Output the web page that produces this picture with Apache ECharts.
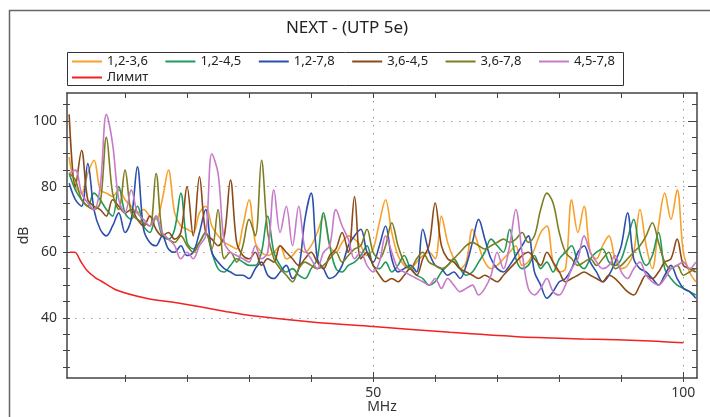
<!DOCTYPE html>
<html><head><meta charset="utf-8">
<script src="https://cdn.jsdelivr.net/npm/echarts@6/dist/echarts.min.js"></script>
<style>html,body{margin:0;padding:0;background:#fff}#c{width:710px;height:417px}</style>
</head><body><div id="c"></div>
<script>
const chartTitle = 'NEXT - (UTP 5e)';
const seriesNames = ['1,2-3,6','1,2-4,5','1,2-7,8','3,6-4,5','3,6-7,8','4,5-7,8'];
const limitName = 'Лимит';
const xName = 'MHz';
const yName = 'dB';

const freq = [1,2,3,4,5,6,7,8,9,10,11,12,13,14,15,16,17,18,19,20,21,22,23,24,25,26,27,28,29,30,
31,32,33,34,35,36,37,38,39,40,41,42,43,44,45,46,47,48,49,50,51,52,53,54,55,56,57,58,59,60,
61,62,63,64,65,66,67,68,69,70,71,72,73,74,75,76,77,78,79,80,81,82,83,84,85,86,87,88,89,90,
91,92,93,94,95,96,97,98,99,100,101,102];

const s1236 = [89,80,78,84,88,79,78,77,79,76, 74,72,73,71,70,76,85,72,68,67, 66,72,74,68,65,63,62,61,68,76,
63,60,59,60,62,58,59,61,60,62, 66,71,62,60,63,65,64,62,59,61, 69,76,66,59,56,55,57,59,60,58,
71,63,58,55,57,67,62,57,55,56, 58,60,62,56,57,61,66,68,57,54, 55,76,66,74,60,58,62,65,58,55,
56,60,73,62,55,68,78,70,79,60, 54,51];
const s1245 = [84,79,76,74,78,76,73,71,80,72, 70,74,68,66,71,65,64,67,78,63, 61,63,66,60,55,54,56,58,57,56,
56,60,71,60,56,54,55,53,52,55, 58,72,62,55,54,56,57,59,62,56, 55,57,54,56,59,55,53,52,50,51,
54,56,58,55,53,54,57,60,64,62, 60,67,58,55,56,59,55,57,54,58, 60,62,57,55,58,60,61,57,56,58,
64,70,60,56,59,66,55,52,50,49, 48,47];
const s1278 = [81,76,74,87,73,67,65,68,72,66, 70,86,67,63,62,65,61,60,62,59, 60,66,73,60,57,55,54,53,53,52,
55,57,53,52,54,56,52,55,70,78, 58,55,52,53,56,62,65,67,60,57, 62,68,58,54,55,56,54,67,60,56,
55,53,54,52,56,63,70,64,58,55, 54,56,59,62,65,54,50,46,48,51, 52,55,60,62,57,54,51,53,57,62,
72,58,55,54,52,50,53,56,52,49, 48,46];
const s3645 = [102,80,91,76,74,73,71,76,74,72, 73,70,68,71,67,65,66,64,66,80, 65,83,66,64,62,65,82,63,59,58,
60,56,58,57,62,60,58,56,58,60, 57,55,59,61,66,60,77,58,60,56, 53,51,52,51,53,55,53,58,62,75,
62,58,57,55,54,53,52,53,52,51, 53,55,57,59,60,58,56,60,57,54, 51,52,53,54,53,52,51,53,52,50,
48,47,50,53,52,54,57,58,64,56, 55,54];
const s3678 = [84,82,76,74,73,75,95,78,73,85, 72,70,69,68,84,66,64,63,65,62, 60,63,66,61,73,58,60,57,62,70,
65,88,66,58,55,53,51,55,57,56, 55,56,58,60,57,59,61,62,67,60, 58,62,69,62,57,55,58,60,57,56,
55,56,58,60,62,63,62,61,62,63, 64,63,64,66,63,65,73,78,75,66, 60,58,56,57,58,56,58,60,55,56,
58,60,62,65,69,63,57,55,56,53, 54,55];
const s4578 = [84,85,78,75,73,80,102,93,76,72, 79,72,70,68,71,66,64,62,58,60, 58,62,65,90,84,63,60,59,58,57,
62,58,60,79,66,74,62,74,61,58, 55,60,62,73,68,64,58,60,56,54, 57,65,60,55,54,53,52,51,50,52,
49,52,50,48,49,50,47,49,53,60, 55,62,73,60,49,47,49,52,48,47, 50,55,58,65,60,57,55,56,59,54,
52,55,57,53,51,50,52,55,56,57, 55,57];

const limitFreq = [1.1,1.9,2.9,3.8,5.3,6.0,8.5,13.4,18.3,22.1,26.4,30.2,40.9,50,62.4,73.2,83.9,94.7,100];
const limitDb   = [60,60,57.1,54.6,52.1,51.4,48.6,46.0,44.6,43.4,41.9,40.7,38.6,37.4,35.6,34.3,33.6,33.0,32.4];

const xTicks = [10,20,30,40,50,60,70,80,90,100];
const xLabels = [50,100];
const yTicks = [25,30,35,40,45,50,55,60,65,70,75,80,85,90,95,100,105];
const yLabels = [40,60,80,100];

const XMIN = 0.65, XMAX = 102.2, YMIN = 21.7, YMAX = 108.5;
const FONT = 'Noto Sans';
const AX = '#444';
const colors = ['#f8a02a','#1f9a5c','#2b4fad','#8b4a17','#7d7d22','#c77ac8'];
const limitColor = '#f22222';
const values = [s1236,s1245,s1278,s3645,s3678,s4578];

const dotted = {show:true, lineStyle:{color:'#9a9a9a', width:1, type:[1.5,6.5]}};
function xa(extra){ return Object.assign({type:'value', min:XMIN, max:XMAX, axisLine:{show:false}, axisLabel:{show:false}, splitLine:{show:false}}, extra); }
function ya(extra){ return Object.assign({type:'value', min:YMIN, max:YMAX, axisLine:{show:false}, axisLabel:{show:false}, splitLine:{show:false}}, extra); }

const chart = echarts.init(document.getElementById('c'), null, {renderer:'canvas'});
const series = seriesNames.map((n,k)=>({
  name:n, type:'line', xAxisIndex:0, yAxisIndex:0, symbol:'none', smooth:0.35,
  data: freq.map((f,i)=>[f, values[k][i]]),
  lineStyle:{width:1.6, color:colors[k]}, itemStyle:{color:colors[k]}, z:3
}));
series.push({
  name:limitName, type:'line', xAxisIndex:0, yAxisIndex:0, symbol:'none', smooth:0.3,
  data: limitFreq.map((f,i)=>[f, limitDb[i]]),
  lineStyle:{width:1.5, color:limitColor}, itemStyle:{color:limitColor}, z:4
});

chart.setOption({
  animation:false,
  backgroundColor:'#fff',
  grid:{left:67, top:93, right:13, bottom:39, containLabel:false, outerBoundsMode:'none'},
  graphic:[
    {type:'rect', shape:{x:9.5, y:10.5, width:740, height:440}, style:{fill:'none', stroke:'#666', lineWidth:1.5}, silent:true},
    {type:'rect', shape:{x:67.5, y:52.5, width:556, height:33}, style:{fill:'none', stroke:'#333', lineWidth:1}, silent:true},
    {type:'text', x:347, y:28, style:{text:chartTitle, fontSize:17, fontFamily:FONT, fill:'#222', textAlign:'center', textVerticalAlign:'middle'}, silent:true}
  ],
  legend:[
    {data:seriesNames, left:72, top:55, padding:0, itemGap:17.5, itemWidth:30, itemHeight:2, icon:'rect', selectedMode:false,
     textStyle:{fontSize:13, fontFamily:FONT, color:'#222'}},
    {data:[limitName], left:72, top:71, padding:0, itemWidth:30, itemHeight:2, icon:'rect', selectedMode:false,
     textStyle:{fontSize:13, fontFamily:FONT, color:'#222'}}
  ],
  xAxis:[
    xa({position:'bottom', axisLine:{show:true, onZero:false, lineStyle:{color:AX, width:1.5}},
        axisTick:{show:true, customValues:xTicks, inside:false, length:4, lineStyle:{color:AX}},
        axisLabel:{show:true, customValues:xLabels, margin:8, fontSize:14, fontFamily:FONT, color:'#333'},
        name:xName, nameLocation:'middle', nameGap:22, nameMoveOverlap:false, nameTextStyle:{fontSize:14, fontFamily:FONT, color:'#333'}}),
    xa({position:'bottom', axisTick:{show:true, customValues:xTicks, inside:true, length:3, lineStyle:{color:AX}}}),
    xa({position:'bottom', axisTick:{show:true, customValues:xLabels, inside:true, length:6, lineStyle:{color:AX}}, splitLine:dotted}),
    xa({position:'top', axisLine:{show:true, onZero:false, lineStyle:{color:AX, width:1.5}},
        axisTick:{show:true, customValues:xTicks, inside:true, length:5, lineStyle:{color:AX}}})
  ],
  yAxis:[
    ya({position:'left', axisLine:{show:true, onZero:false, lineStyle:{color:AX, width:1.5}},
        axisTick:{show:true, customValues:yTicks, inside:false, length:4, lineStyle:{color:AX}},
        axisLabel:{show:true, customValues:yLabels, margin:10, fontSize:14, fontFamily:FONT, color:'#333'},
        name:yName, nameLocation:'middle', nameGap:36, nameMoveOverlap:false, nameTextStyle:{fontSize:14, fontFamily:FONT, color:'#333'}}),
    ya({position:'left', axisTick:{show:true, customValues:yTicks, inside:true, length:3, lineStyle:{color:AX}}}),
    ya({position:'left', axisTick:{show:true, customValues:yLabels, inside:true, length:0}, splitLine:dotted}),
    ya({position:'right', axisLine:{show:true, onZero:false, lineStyle:{color:AX, width:1.5}},
        axisTick:{show:true, customValues:yTicks, inside:true, length:5, lineStyle:{color:AX}}}),
    ya({position:'right', axisTick:{show:true, customValues:yLabels, inside:true, length:9, lineStyle:{color:AX}}})
  ],
  series:series
});
</script>
</body></html>
